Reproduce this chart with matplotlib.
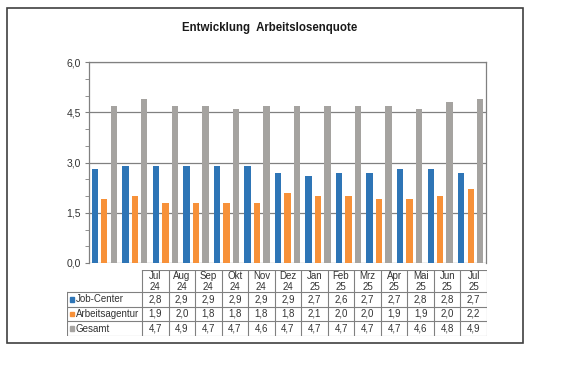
import numpy as np
import matplotlib.pyplot as plt
from matplotlib.patches import Rectangle

plt.rcParams['font.family'] = ['Liberation Sans', 'DejaVu Sans']

months = ["Jul\n24", "Aug\n24", "Sep\n24", "Okt\n24", "Nov\n24", "Dez\n24",
          "Jan\n25", "Feb\n25", "Mrz\n25", "Apr\n25", "Mai\n25", "Jun\n25", "Jul\n25"]
job_center = [2.8, 2.9, 2.9, 2.9, 2.9, 2.9, 2.7, 2.6, 2.7, 2.7, 2.8, 2.8, 2.7]
arbeitsagentur = [1.9, 2.0, 1.8, 1.8, 1.8, 1.8, 2.1, 2.0, 2.0, 1.9, 1.9, 2.0, 2.2]
gesamt = [4.7, 4.9, 4.7, 4.7, 4.6, 4.7, 4.7, 4.7, 4.7, 4.7, 4.6, 4.8, 4.9]

series = [("Job-Center", job_center, "#2E75B6"),
          ("Arbeitsagentur", arbeitsagentur, "#F79139"),
          ("Gesamt", gesamt, "#A5A3A0")]

W, H = 565, 366
fig = plt.figure(figsize=(W / 100, H / 100), dpi=100)


def fbox(x0, y0, x1, y1):
    # pixel box (from top-left) -> figure fraction rect
    return [x0 / W, 1 - y1 / H, (x1 - x0) / W, (y1 - y0) / H]


# outer frame
fig.patches.append(Rectangle((7 / W, 1 - 343 / H), 516 / W, 335 / H,
                             transform=fig.transFigure, fill=False,
                             edgecolor="#404040", lw=1.2))

fig.text(270 / W, 1 - 28 / H, "Entwicklung  Arbeitslosenquote", ha="center",
         va="center", fontsize=8.3, fontweight="bold", color="#1a1a1a")

ax = fig.add_axes(fbox(89, 62, 486, 263))
x = np.arange(len(months))
bw = 0.21
step = 0.31
for i, (name, vals, col) in enumerate(series):
    ax.bar(x + (i - 1) * step, vals, width=bw, color=col, zorder=3)

ax.set_xlim(-0.5, len(months) - 0.5)
ax.set_ylim(0, 6)
ax.set_yticks([0, 1.5, 3.0, 4.5, 6.0])
ax.set_yticks(np.arange(0, 6.01, 0.5), minor=True)
ax.set_yticklabels([f"{v:.1f}".replace(".", ",") for v in [0, 1.5, 3.0, 4.5, 6.0]],
                   fontsize=7.5, color="#333333")
ax.tick_params(axis="y", which="both", length=3, color="#808080", pad=3)
ax.set_xticks([])
ax.grid(axis="y", which="major", color="#808080", lw=0.9, zorder=1)
for s in ["left", "right", "top"]:
    ax.spines[s].set_color("#808080")
    ax.spines[s].set_linewidth(0.9)
ax.spines["bottom"].set_visible(False)

# data table
tab = fig.add_axes(fbox(67, 270, 487, 336))
tab.set_xlim(67, 487)
tab.set_ylim(336, 270)
tab.axis("off")
gc = "#808080"
lx0, lx1 = 67, 142
cw = (487 - 142) / len(months)
rows_y = [270, 292, 307, 321, 336]
# horizontal lines
tab.plot([142, 487], [270, 270], color=gc, lw=0.8)
for yy in rows_y[1:]:
    tab.plot([lx0, 487], [yy, yy], color=gc, lw=0.8)
# vertical lines
tab.plot([lx0, lx0], [292, 336], color=gc, lw=0.8)
for j in range(len(months) + 1):
    xx = 142 + j * cw
    tab.plot([xx, xx], [270, 336], color=gc, lw=0.8)

for j, m in enumerate(months):
    tab.text(142 + (j + 0.5) * cw, 281.5, m, ha="center", va="center",
             fontsize=7, color="#333333", linespacing=1.2)

for r, (name, vals, col) in enumerate(series):
    yc = (rows_y[r + 1] + rows_y[r + 2]) / 2
    tab.add_patch(Rectangle((69.5, yc - 2.2), 4.4, 4.4, color=col))
    tab.text(76, yc, name, ha="left", va="center", fontsize=7, color="#333333")
    for j, v in enumerate(vals):
        tab.text(142 + (j + 0.5) * cw, yc, f"{v:.1f}".replace(".", ","),
                 ha="center", va="center", fontsize=7, color="#333333")

fig.savefig("out.png", dpi=100)
